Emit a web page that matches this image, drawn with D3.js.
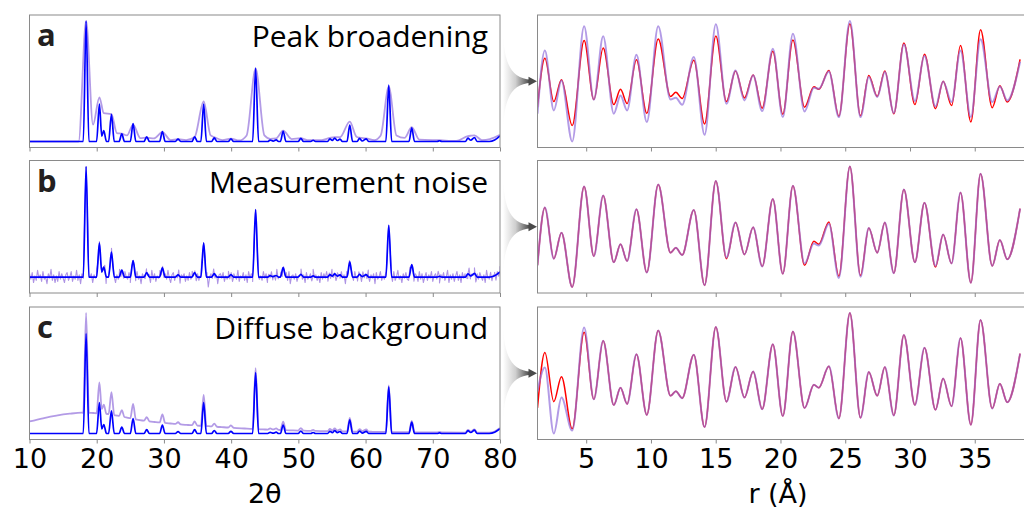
<!DOCTYPE html>
<html>
<head>
<meta charset="utf-8">
<script src="https://cdn.jsdelivr.net/npm/d3@7"></script>
<style>
  body { margin: 0; background: #fff; }
  svg { display: block; }
</style>
</head>
<body>
<svg id="fig" width="1024" height="510"></svg>
<script>
// ---------- data ----------
const panelLetters = ["a", "b", "c"];
const panelTitles = ["Peak broadening", "Measurement noise", "Diffuse background"];
const twoThetaTicks = [10, 20, 30, 40, 50, 60, 70, 80];
const rTicks = [5, 10, 15, 20, 25, 30, 35];

// ideal diffraction pattern: [2theta, normalised intensity]
const patternIdeal = [
  [10, 0], [18.0, 0], [18.42, 1.0], [18.84, 0],
  [19.98, 0], [20.4, 0.31], [20.75, 0.045], [21.05, 0.09], [21.45, 0],
  [21.77, 0], [22.19, 0.226], [22.61, 0],
  [23.33, 0], [23.73, 0.063], [24.13, 0],
  [25.0, 0], [25.41, 0.149], [25.82, 0],
  [27.04, 0], [27.44, 0.039], [27.84, 0],
  [29.36, 0], [29.77, 0.083], [30.18, 0],
  [31.7, 0], [32.1, 0.019], [32.5, 0],
  [34.17, 0], [34.57, 0.039], [34.97, 0],
  [35.5, 0], [35.91, 0.31], [36.32, 0],
  [37.09, 0], [37.49, 0.03], [37.89, 0],
  [39.57, 0], [39.97, 0.022], [40.37, 0],
  [43.2, 0], [43.64, 0.61], [44.08, 0],
  [45.45, 0], [45.8, 0.012], [46.25, 0.003], [46.7, 0.014], [47.05, 0],
  [47.33, 0], [47.74, 0.085], [48.15, 0],
  [49.97, 0], [50.37, 0.025], [50.77, 0],
  [51.85, 0], [52.2, 0.01], [52.55, 0],
  [54.35, 0], [54.7, 0.022], [55.05, 0.008], [55.4, 0.028], [55.8, 0.008], [56.2, 0.02], [56.55, 0],
  [57.24, 0], [57.65, 0.137], [58.06, 0],
  [58.75, 0], [59.1, 0.025], [59.5, 0.004], [60.1, 0.022], [60.45, 0],
  [63.02, 0], [63.45, 0.468], [63.88, 0],
  [66.46, 0], [66.87, 0.113], [67.28, 0],
  [70.65, 0], [71.0, 0.006], [71.35, 0],
  [74.85, 0], [75.23, 0.028], [75.65, 0.01], [76.2, 0.033], [76.6, 0],
  [78.4, 0], [79.2, 0.012], [80, 0.047]
];

// same pattern with broadened peaks
const patternBroadened = [
  [10, 0], [17.3, 0], [18.42, 1.0], [19.45, 0.14], [20.4, 0.366], [21.05, 0.235], [22.19, 0.228],
  [23.0, 0.07], [23.73, 0.066], [24.5, 0.05], [25.41, 0.14], [26.5, 0.028], [27.44, 0.032],
  [28.5, 0.025], [29.77, 0.077], [31.0, 0.012], [32.1, 0.02], [33.3, 0.012], [34.57, 0.038],
  [35.91, 0.332], [36.95, 0.05], [37.49, 0.036], [38.7, 0.012], [39.97, 0.024], [41.2, 0.008],
  [42.3, 0.05], [43.64, 0.605], [44.95, 0.05], [45.8, 0.022], [46.7, 0.026], [47.74, 0.09],
  [49.0, 0.02], [50.37, 0.027], [51.3, 0.012], [52.2, 0.012], [53.5, 0.012], [54.7, 0.03],
  [55.4, 0.036], [56.2, 0.035], [57.65, 0.165], [58.65, 0.04], [59.1, 0.032], [60.1, 0.026],
  [61.3, 0.012], [62.25, 0.05], [63.45, 0.455], [64.6, 0.05], [65.8, 0.03], [66.87, 0.118],
  [68.0, 0.015], [71.0, 0.01], [73.5, 0.005], [75.23, 0.045], [75.7, 0.048], [76.2, 0.05],
  [77.3, 0.012], [78.5, 0.02], [80, 0.055]
];

// measurement noise, hundredths of the normalised intensity, one value per 0.2 deg step from 10 deg
const noiseHundredths = [
  3, -2, 4, -5, 1, -3, 6, -1, 2, -4, 5, -2, 0, -6, 3, -1, 7, -3, 2, -5,
  1, -4, 5, -2, 3, -1, -5, 2, 4, -3, 0, 5, -4, 1, -2, 6, -3, 2, -6, 3,
  -1, 4, -2, 5, -4, 0, 3, -5, 2, -1, 6, -3, 1, -4, 3, -2, 5, -7, 0, 2,
  -3, 4, -1, 3, -5, 2, -2, 6, -4, 1, -3, 5, 0, -2, 4, -5, 2, -1, 3, -4,
  5, -2, 1, -6, 3, 0, -3, 4, -1, 2, -5, 6, -2, 3, -4, 1, -1, 5, -3, 2,
  -4, 3, -2, 6, -1, -5, 2, 4, -3, 1, -2, 5, -6, 2, 0, 3, -4, 1, -3, 4,
  -2, 5, -1, 2, -5, 3, -3, 1, 6, -4, 2, -1, 4, -9, 0, 3, -2, 5, -3, 1,
  -6, 2, 3, -1, 4, -4, 1, -2, 5, -3, 2, -5, 3, 0, -2, 6, -4, 1, -1, 4,
  -3, 2, -5, 5, -1, 3, -4, 0, 2, -6, 4, -2, 1, -3, 5, -1, 3, -5, 2, -2,
  4, -3, 1, -4, 6, -2, 0, 3, -5, 2, -1, 4, -3, 5, -6, 1, 2, -2, 3, -4,
  1, -1, 5, -3, 2, -5, 4, -2, 0, 3, -4, 6, -1, 2, -3, 1, -5, 4, -2, 3,
  -1, 5, -4, 2, -3, 6, -2, 1, -5, 3, 0, -3, 4, -1, 2, -6, 5, -2, 3, -1,
  2, -3, 5, -1, -4, 3, 0, -5, 4, -2, 1, -3, 6, -4, 2, -1, 3, -6, 4, -2,
  0, 5, -3, 1, -2, 4, -5, 3, -1, 2, -4, 5, -3, 0, 6, -2, 1, -5, 3, -1,
  4, -2, -3, 5, -1, 2, -6, 3, 1, -4, 5, -2, 3, -5, 0, 4, -3, 2, -1, 5,
  -4, 1, 3, -2, 5, -6, 2, -1, 4, -3, 0, 6, -5, 2, -2, 3, -4, 1, 5, -3,
  2, -5, 4, -1, 3, -2, -4, 6, -3, 1, -1, 5, -6, 3, -2, 4, 0, -3, 2, -5,
  6, -1, -2, 4, -4, 1, 3, -5, 2, -3, 5, -1, 0, -4, 3, -2, 6, -3, 1, -2
];
const noiseStep = 0.2;

// diffuse background level: [2theta, intensity]
const backgroundLevel = [
  [10, 0.12], [12, 0.152], [14, 0.179], [16, 0.198], [17.8, 0.208], [19.5, 0.205],
  [21.6, 0.195], [23.0, 0.18], [24.5, 0.16], [26.3, 0.135], [28.6, 0.115], [31.0, 0.10],
  [33.4, 0.086], [36.9, 0.072], [38.6, 0.064], [42.0, 0.05], [45.0, 0.04], [49.0, 0.031],
  [53.5, 0.024], [61.0, 0.017], [68.0, 0.011], [80, 0.007]
];

// pair distribution function, sampled at its turning points (r in angstrom)
const rExtrema = [
  1.24, 1.81, 2.50, 3.09, 3.92, 4.84, 5.59, 6.31, 7.13, 7.65, 8.16, 8.88, 9.68,
  10.56, 11.51, 11.92, 12.41, 13.31, 14.14, 15.01, 15.83, 16.53, 17.22, 17.89, 18.59,
  19.41, 20.18, 20.96, 21.86, 22.58, 22.96, 23.74, 24.51, 25.36, 26.18, 26.82, 27.47,
  28.06, 28.75, 29.53, 30.38, 31.12, 31.97, 32.56, 33.21, 33.90, 34.70, 35.45, 36.35,
  36.94, 37.51, 38.5
];
const gTrue = [
  -0.64, 0.32, -0.53, -0.10, -1.00, 0.67, -0.49, 0.52, -0.59, -0.29, -0.57, 0.29, -0.76,
  0.70, -0.43, -0.35, -0.47, 0.28, -0.97, 0.76, -0.53, 0.07, -0.46, -0.01, -0.66,
  0.46, -0.78, 0.68, -0.64, -0.24, -0.29, 0.08, -0.82, 1.00, -0.81, -0.02, -0.43,
  0.07, -0.77, 0.62, -0.59, 0.40, -0.67, -0.13, -0.61, 0.57, -0.93, 0.88, -0.65,
  -0.22, -0.54, 0.30
];
const gBroadened = [
  -0.77, 0.475, -0.705, -0.115, -1.315, 0.948, -0.495, 0.751, -0.770, -0.410, -0.705, 0.390, -0.934,
  0.948, -0.489, -0.456, -0.593, 0.344, -1.184, 0.987, -0.574, 0.082, -0.508, -0.016, -0.718,
  0.508, -0.836, 0.803, -0.725, -0.259, -0.279, 0.062, -0.836, 1.052, -0.836, -0.049, -0.443,
  0.049, -0.757, 0.593, -0.521, 0.364, -0.626, -0.134, -0.541, 0.475, -0.836, 0.692, -0.541,
  -0.233, -0.508, 0.25
];
const gNoisy = [
  -0.64, 0.32, -0.53, -0.10, -1.00, 0.67, -0.49, 0.52, -0.59, -0.29, -0.57, 0.29, -0.76,
  0.70, -0.43, -0.35, -0.47, 0.28, -0.97, 0.76, -0.51, 0.07, -0.46, -0.01, -0.66,
  0.46, -0.78, 0.68, -0.61, -0.28, -0.31, 0.05, -0.85, 1.00, -0.83, -0.02, -0.43,
  0.07, -0.77, 0.62, -0.59, 0.40, -0.65, -0.13, -0.61, 0.57, -0.93, 0.88, -0.65,
  -0.22, -0.54, 0.30
];
const gBackground = [
  -0.35, 0.06, -1.08, -0.46, -1.03, 0.75, -0.49, 0.52, -0.59, -0.29, -0.57, 0.29, -0.76,
  0.70, -0.43, -0.35, -0.47, 0.28, -0.97, 0.76, -0.53, 0.07, -0.46, -0.01, -0.66,
  0.46, -0.78, 0.68, -0.64, -0.24, -0.29, 0.08, -0.82, 1.00, -0.81, -0.02, -0.43,
  0.07, -0.77, 0.62, -0.59, 0.40, -0.67, -0.13, -0.61, 0.57, -0.93, 0.88, -0.65,
  -0.22, -0.54, 0.30
];

// ---------- helpers ----------
const bisectX = d3.bisector(d => d[0]).left;
function valueAt(pts, x) {
  const i = bisectX(pts, x);
  if (i >= pts.length) return pts[pts.length - 1][1];
  if (pts[i][0] === x || i === 0) return pts[i][1];
  const a = pts[i - 1], b = pts[i];
  return a[1] + (b[1] - a[1]) * (x - a[0]) / (b[0] - a[0]);
}

// pattern with added noise
const patternNoisy = patternIdeal.map(d => [d[0], d[1]]);
noiseHundredths.forEach((n, i) => {
  const x = 10 + i * noiseStep;
  if (x <= 80) patternNoisy.push([x, valueAt(patternIdeal, x) + n / 100]);
});
patternNoisy.sort((a, b) => a[0] - b[0]);

// pattern sitting on the diffuse background
const bgXs = Array.from(new Set(patternIdeal.map(d => d[0]).concat(backgroundLevel.map(d => d[0]))))
  .sort((a, b) => a - b);
const patternWithBg = bgXs.map(x => [x, valueAt(patternIdeal, x) + valueAt(backgroundLevel, x)]);

const pdfTrue = rExtrema.map((r, i) => [r, gTrue[i]]);
const pdfAlt = [gBroadened, gNoisy, gBackground].map(g => rExtrema.map((r, i) => [r, g[i]]));

const leftAlt = [
  { pts: patternBroadened, curve: d3.curveMonotoneX, width: 1.8, opacity: 0.7 },
  { pts: patternNoisy, curve: d3.curveLinear, width: 1.1, opacity: 0.75 },
  { pts: patternWithBg, curve: d3.curveMonotoneX, width: 1.8, opacity: 0.7 }
];

// ---------- layout ----------
const svg = d3.select("#fig");
const rowTop = [15, 160.5, 307];
const rowH = 132.5;
const L = { x0: 29.5, x1: 500 };
const R = { x0: 537.5, x1: 1039.5 };
const frameColor = "#8a8a8a";
const purple = "mediumpurple";

const x2t = d3.scaleLinear().domain([10, 80]).range([L.x0, L.x1]);
const xr = d3.scaleLinear().domain([1.24, 40]).range([R.x0, R.x1]);

function paddedY(series, y0, y1) {
  const all = series.flat();
  const [lo, hi] = d3.extent(all, d => d[1]);
  const pad = (hi - lo) * 0.05;
  return d3.scaleLinear().domain([lo - pad, hi + pad]).range([y1, y0]);
}

const defs = svg.append("defs");
const grad = defs.append("linearGradient").attr("id", "funnelFill")
  .attr("x1", "0").attr("x2", "1").attr("y1", "0").attr("y2", "0");
grad.append("stop").attr("offset", "0").attr("stop-color", "#ffffff");
grad.append("stop").attr("offset", "0.45").attr("stop-color", "#cfcfcf");
grad.append("stop").attr("offset", "1").attr("stop-color", "#3c3c3c");

rowTop.forEach((t, i) => {
  const b = t + rowH;

  // ----- left: diffraction pattern -----
  defs.append("clipPath").attr("id", "clipL" + i)
    .append("rect").attr("x", L.x0).attr("y", t).attr("width", L.x1 - L.x0).attr("height", rowH);
  const yL = paddedY([patternIdeal, leftAlt[i].pts], t, b);
  const gl = svg.append("g").attr("clip-path", `url(#clipL${i})`);
  gl.append("path").datum(leftAlt[i].pts)
    .attr("fill", "none").attr("stroke", purple).attr("stroke-opacity", leftAlt[i].opacity)
    .attr("stroke-width", leftAlt[i].width).attr("stroke-linejoin", "round")
    .attr("d", d3.line().x(d => x2t(d[0])).y(d => yL(d[1])).curve(leftAlt[i].curve));
  gl.append("path").datum(patternIdeal)
    .attr("fill", "none").attr("stroke", "#0000ff").attr("stroke-width", 1.7)
    .attr("d", d3.line().x(d => x2t(d[0])).y(d => yL(d[1])).curve(d3.curveMonotoneX));

  svg.append("rect").attr("x", L.x0).attr("y", t).attr("width", L.x1 - L.x0).attr("height", rowH)
    .attr("fill", "none").attr("stroke", frameColor).attr("stroke-width", 1);

  const axL = svg.append("g").attr("transform", `translate(0,${b})`)
    .call(d3.axisBottom(x2t).tickValues(twoThetaTicks).tickSize(4).tickPadding(5)
      .tickFormat(i === 2 ? d3.format("d") : () => ""));
  axL.select(".domain").remove();
  axL.selectAll(".tick line").attr("stroke", frameColor);
  axL.selectAll(".tick text").attr("fill", "#000")
    .style("font-family", "'DejaVu Sans', sans-serif").style("font-size", "27px");

  svg.append("text").attr("x", 37).attr("y", t + 31)
    .style("font-family", "'Open Sans', sans-serif").style("font-weight", "bold")
    .style("font-size", "31px").attr("fill", "#231f20").text(panelLetters[i]);
  svg.append("text").attr("x", 488).attr("y", t + 32).attr("text-anchor", "end")
    .style("font-family", "'Open Sans', sans-serif").style("font-size", "30px")
    .attr("fill", "#000").text(panelTitles[i]);

  // ----- right: pair distribution function -----
  defs.append("clipPath").attr("id", "clipR" + i)
    .append("rect").attr("x", R.x0).attr("y", t).attr("width", R.x1 - R.x0).attr("height", rowH);
  const yR = paddedY([pdfTrue, pdfAlt[i]], t, b);
  const pdfLine = d3.line().x(d => xr(d[0])).y(d => yR(d[1])).curve(d3.curveMonotoneX);
  const gr = svg.append("g").attr("clip-path", `url(#clipR${i})`);
  gr.append("path").datum(pdfTrue)
    .attr("fill", "none").attr("stroke", "#ff0000").attr("stroke-width", 1.5).attr("d", pdfLine);
  gr.append("path").datum(pdfAlt[i])
    .attr("fill", "none").attr("stroke", purple).attr("stroke-opacity", 0.7)
    .attr("stroke-width", 2).attr("d", pdfLine);

  svg.append("rect").attr("x", R.x0).attr("y", t).attr("width", R.x1 - R.x0).attr("height", rowH)
    .attr("fill", "none").attr("stroke", frameColor).attr("stroke-width", 1);

  const axR = svg.append("g").attr("transform", `translate(0,${b})`)
    .call(d3.axisBottom(xr).tickValues(rTicks).tickSize(4).tickPadding(5)
      .tickFormat(i === 2 ? d3.format("d") : () => ""));
  axR.select(".domain").remove();
  axR.selectAll(".tick line").attr("stroke", frameColor);
  axR.selectAll(".tick text").attr("fill", "#000")
    .style("font-family", "'DejaVu Sans', sans-serif").style("font-size", "27px");

  // ----- funnel arrow joining the two panels -----
  const c = t + rowH / 2;
  svg.append("path")
    .attr("d", `M503,${c - 46} C505,${c - 14} 513,${c - 3} 531,${c - 1.6}
                L531,${c + 1.6} C513,${c + 3} 505,${c + 14} 503,${c + 46} Z`)
    .attr("fill", "url(#funnelFill)");
  svg.append("path")
    .attr("d", `M528.5,${c - 4.5} L537,${c} L528.5,${c + 4.5} Z`)
    .attr("fill", "#4a4a4a");
});

// axis titles
svg.append("text").attr("x", (L.x0 + L.x1) / 2).attr("y", 503).attr("text-anchor", "middle")
  .style("font-family", "'DejaVu Sans', sans-serif").style("font-size", "27px").text("2θ");
svg.append("text").attr("x", 778).attr("y", 503).attr("text-anchor", "middle")
  .style("font-family", "'DejaVu Sans', sans-serif").style("font-size", "27px").text("r (Å)");
</script>
</body>
</html>
